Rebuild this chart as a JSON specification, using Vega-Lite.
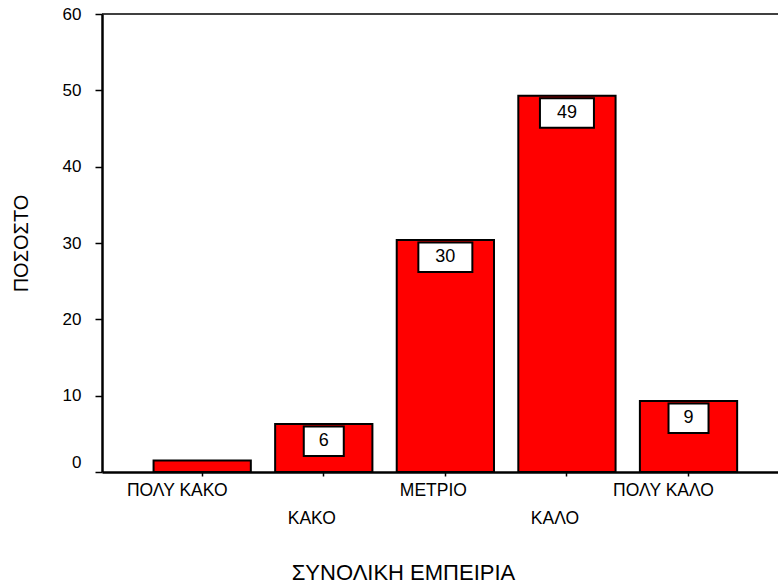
{
  "$schema": "https://vega.github.io/schema/vega-lite/v6.json",
  "width": 676,
  "height": 458,
  "autosize": "none",
  "padding": {"left": 102, "top": 14, "right": 0, "bottom": 116},
  "config": {
    "view": {"stroke": null},
    "font": "Liberation Sans",
    "axis": {"labelFont": "Liberation Sans", "titleFont": "Liberation Sans", "labelColor": "#000", "titleColor": "#000", "titleFontWeight": "normal", "grid": false}
  },
  "datasets": {
    "bars": [
      {"cat": "ΠΟΛΥ ΚΑΚΟ", "value": 1.5, "label": null},
      {"cat": "ΚΑΚΟ", "value": 6.3, "label": "6"},
      {"cat": "ΜΕΤΡΙΟ", "value": 30.4, "label": "30"},
      {"cat": "ΚΑΛΟ", "value": 49.3, "label": "49"},
      {"cat": "ΠΟΛΥ ΚΑΛΟ", "value": 9.3, "label": "9"}
    ],
    "frame": [{"top": 60}]
  },
  "layer": [
    {
      "data": {"name": "bars"},
      "mark": {"type": "bar", "color": "#ff0000", "stroke": "#000", "strokeWidth": 2},
      "encoding": {
        "x": {
          "field": "cat",
          "type": "nominal",
          "scale": {"domain": ["ΠΟΛΥ ΚΑΚΟ", "ΚΑΚΟ", "ΜΕΤΡΙΟ", "ΚΑΛΟ", "ΠΟΛΥ ΚΑΛΟ"], "paddingInner": 0.2, "paddingOuter": 0.38, "align": 0.558},
          "axis": {
            "title": "ΣΥΝΟΛΙΚΗ ΕΜΠΕΙΡΙΑ",
            "titleFontSize": 22,
            "titleX": 301,
            "titleY": 100,
            "titleBaseline": "middle",
            "labelAngle": 0,
            "labelFontSize": 17.5,
            "labelBaseline": "top",
            "labelLineHeight": 28,
            "labelPadding": 5,
            "labelOffset": {"condition": {"test": "length(datum.value) > 8", "value": -25}, "value": -12},
            "labelExpr": "(datum.value === 'ΚΑΚΟ' || datum.value === 'ΚΑΛΟ') ? ['', datum.label] : datum.label",
            "domainColor": "#000",
            "domainWidth": 2.5,
            "tickColor": "#000",
            "tickSize": 4,
            "tickWidth": 1.5
          }
        },
        "y": {
          "field": "value",
          "type": "quantitative",
          "scale": {"domain": [0, 60], "nice": false},
          "axis": {
            "title": "ΠΟΣΟΣΤΟ",
            "titleFontSize": 20,
            "titlePadding": 31,
            "values": [0, 10, 20, 30, 40, 50, 60],
            "labelFontSize": 17,
            "labelPadding": 14,
            "labelOffset": {"condition": {"test": "datum.value === 0", "value": -10}, "value": 0},
            "domainColor": "#000",
            "domainWidth": 2.5,
            "tickColor": "#000",
            "tickSize": 7,
            "tickWidth": 1.5
          }
        }
      }
    },
    {
      "data": {"name": "bars"},
      "transform": [{"filter": "datum.label != null && datum.value >= 10"}],
      "mark": {"type": "bar", "color": "#ffffff", "stroke": "#000", "strokeWidth": 2, "width": 54, "yOffset": 2.5, "y2Offset": 32},
      "encoding": {
        "x": {"field": "cat", "type": "nominal"},
        "y": {"field": "value", "type": "quantitative"},
        "y2": {"field": "value"}
      }
    },
    {
      "data": {"name": "bars"},
      "transform": [{"filter": "datum.label != null && datum.value < 10"}],
      "mark": {"type": "bar", "color": "#ffffff", "stroke": "#000", "strokeWidth": 2, "width": 40, "yOffset": 2.5, "y2Offset": 32},
      "encoding": {
        "x": {"field": "cat", "type": "nominal"},
        "y": {"field": "value", "type": "quantitative"},
        "y2": {"field": "value"}
      }
    },
    {
      "data": {"name": "bars"},
      "transform": [{"filter": "datum.label != null"}],
      "mark": {"type": "text", "fontSize": 18, "color": "#000", "baseline": "middle", "yOffset": 17},
      "encoding": {
        "x": {"field": "cat", "type": "nominal"},
        "y": {"field": "value", "type": "quantitative"},
        "text": {"field": "label"}
      }
    },
    {
      "data": {"name": "frame"},
      "mark": {"type": "rule", "color": "#000", "strokeWidth": 1.5},
      "encoding": {
        "y": {"field": "top", "type": "quantitative"}
      }
    }
  ]
}
